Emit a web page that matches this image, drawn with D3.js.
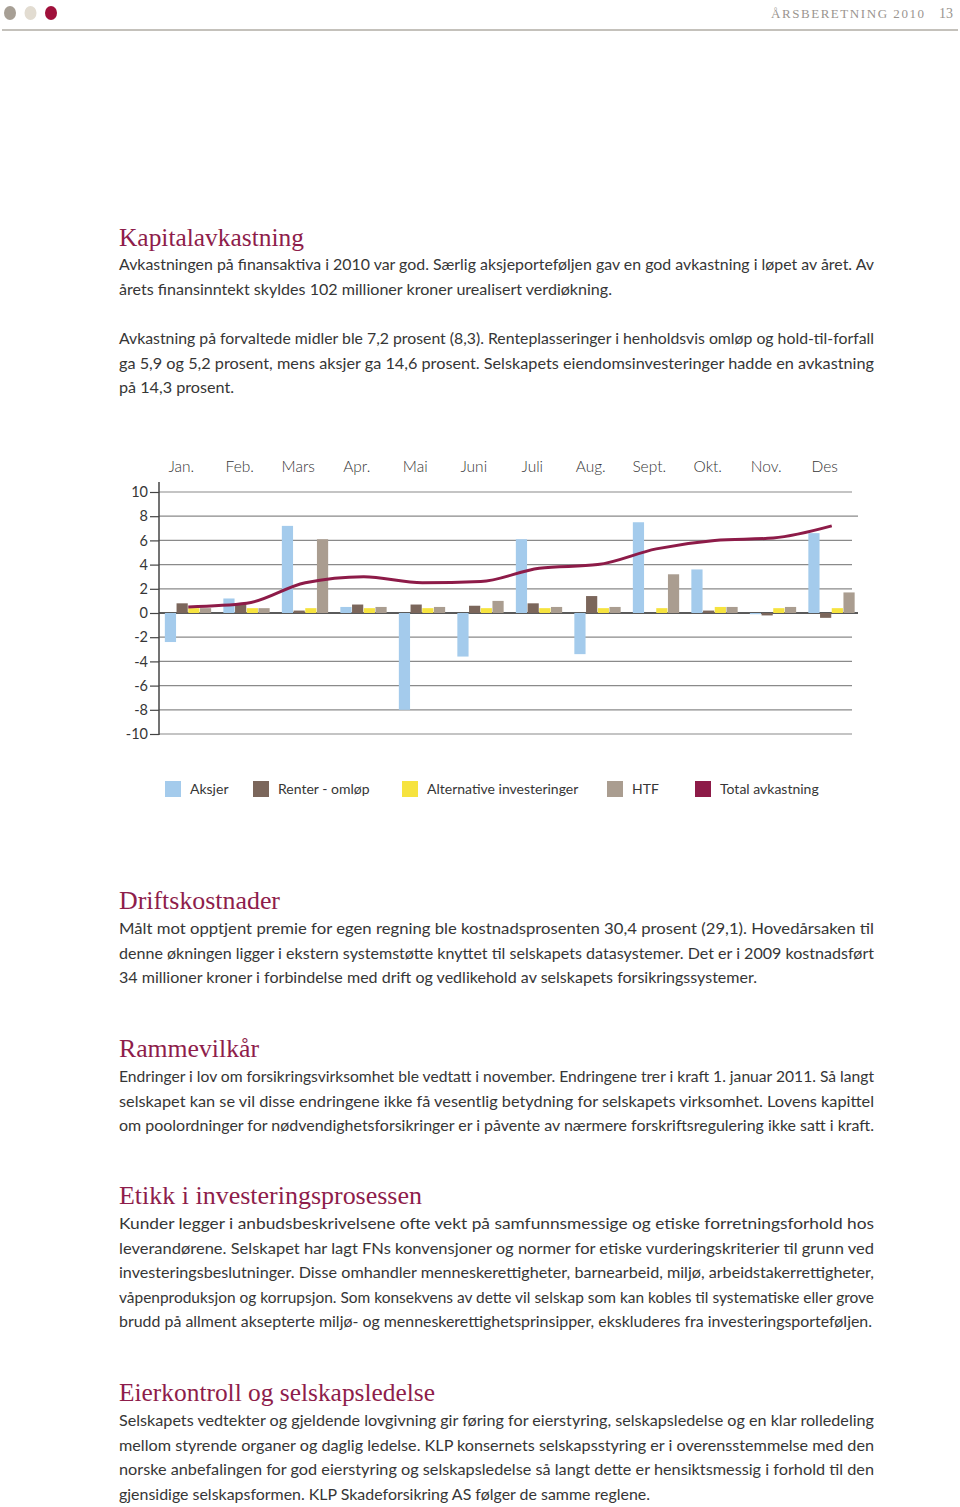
<!DOCTYPE html>
<html><head><meta charset="utf-8">
<script src="https://cdn.jsdelivr.net/npm/d3@7"></script>
<style>
html,body{margin:0;padding:0;background:#fff;}
svg{display:block;}
</style></head>
<body>
<svg id="page" width="960" height="1507"></svg>
<script>
// ---------- DATA ----------
const months = ["Jan.","Feb.","Mars","Apr.","Mai","Juni","Juli","Aug.","Sept.","Okt.","Nov.","Des"];
const seriesNames = ["Aksjer","Renter - omløp","Alternative investeringer","HTF"];
const aksjer      = [-2.4, 1.2, 7.2, 0.5, -8.0, -3.6, 6.1, -3.4, 7.5, 3.6, -0.1, 6.6];
const renter      = [0.8, 0.8, 0.2, 0.7, 0.7, 0.6, 0.8, 1.4, 0.0, 0.2, -0.2, -0.4];
const alternative = [0.4, 0.4, 0.4, 0.4, 0.4, 0.4, 0.4, 0.4, 0.4, 0.5, 0.4, 0.4];
const htf         = [0.4, 0.4, 6.1, 0.5, 0.5, 1.0, 0.5, 0.5, 3.2, 0.5, 0.5, 1.7];
const total       = [0.5, 0.8, 2.5, 3.0, 2.5, 2.6, 3.7, 4.0, 5.3, 6.0, 6.2, 7.2];
const yTicks = [10, 8, 6, 4, 2, 0, -2, -4, -6, -8, -10];
const legendLabels = ["Aksjer","Renter - omløp","Alternative investeringer","HTF","Total avkastning"];

// ---------- STYLE ----------
const colors = ["#a4cbec", "#7b665b", "#f6e33f", "#aa9d90"];
const lineColor = "#8d1b48";
const titleColor = "#8e1d4b";
const textColor = "#363636";
const sans = "Lato, 'Open Sans', sans-serif";
const serif = "'Liberation Serif', 'DejaVu Serif', serif";

const svg = d3.select("#page");

// ---------- HEADER ----------
const dotColors = ["#a79f95", "#e2dcd1", "#a0103b"];
svg.selectAll("ellipse.dot").data(dotColors).join("ellipse")
  .attr("cx", (d, i) => 10 + i * 20.5).attr("cy", 13).attr("rx", 6).attr("ry", 7)
  .attr("fill", d => d);
svg.append("line").attr("x1", 2).attr("x2", 958).attr("y1", 30).attr("y2", 30)
  .attr("stroke", "#c4c1bb").attr("stroke-width", 2);
svg.append("text").attr("x", 771).attr("y", 18).attr("textLength", 153).attr("lengthAdjust", "spacing")
  .style("font-family", serif).style("font-size", "13px").attr("fill", "#9a9590")
  .text("ÅRSBERETNING 2010");
svg.append("text").attr("x", 939).attr("y", 18)
  .style("font-family", serif).style("font-size", "14px").attr("fill", "#9a9590").text("13");

// ---------- TEXT BLOCKS ----------
function title(txt, y, x2) {
  svg.append("text").attr("x", 119).attr("y", y).attr("textLength", x2 - 119).attr("lengthAdjust", "spacingAndGlyphs")
    .style("font-family", serif).style("font-size", "25px").attr("fill", titleColor).text(txt);
}
function para(lines, y0) {
  lines.forEach((l, i) => {
    svg.append("text").attr("x", 119).attr("y", y0 + i * 24.6)
      .attr("textLength", l[1] - 119).attr("lengthAdjust", "spacingAndGlyphs")
      .style("font-family", sans).style("font-size", "16px").attr("fill", textColor).text(l[0]);
  });
}
title("Kapitalavkastning", 246, 304);
para([["Avkastningen på finansaktiva i 2010 var god. Særlig aksjeporteføljen gav en god avkastning i løpet av året.  Av", 874],
      ["årets finansinntekt skyldes 102 millioner kroner urealisert verdiøkning.", 612]], 270);
para([["Avkastning på forvaltede midler ble 7,2 prosent (8,3). Renteplasseringer i henholdsvis omløp og hold-til-forfall", 874],
      ["ga 5,9 og 5,2 prosent, mens aksjer ga 14,6 prosent. Selskapets eiendomsinvesteringer hadde en avkastning", 874],
      ["på 14,3 prosent.", 234]], 344);
title("Driftskostnader", 909, 280);
para([["Målt mot opptjent premie for egen regning ble kostnadsprosenten 30,4 prosent (29,1). Hovedårsaken til", 874],
      ["denne økningen ligger i ekstern systemstøtte knyttet til selskapets datasystemer. Det er i 2009 kostnadsført", 874],
      ["34 millioner kroner i forbindelse med drift og vedlikehold av selskapets forsikringssystemer.", 757]], 934);
title("Rammevilkår", 1057, 259);
para([["Endringer i lov om forsikringsvirksomhet ble vedtatt i november. Endringene trer i kraft 1. januar 2011. Så langt", 874],
      ["selskapet kan se vil disse endringene ikke få vesentlig betydning for selskapets virksomhet. Lovens kapittel", 874],
      ["om poolordninger for nødvendighetsforsikringer er i påvente av nærmere forskriftsregulering ikke satt i kraft.", 874]], 1082);
title("Etikk i investeringsprosessen", 1204, 422);
para([["Kunder legger i anbudsbeskrivelsene ofte vekt på samfunnsmessige og etiske forretningsforhold hos", 874],
      ["leverandørene. Selskapet har lagt FNs konvensjoner og normer for etiske vurderingskriterier til grunn ved", 874],
      ["investeringsbeslutninger. Disse omhandler menneskerettigheter, barnearbeid, miljø, arbeidstakerrettigheter,", 874],
      ["våpenproduksjon og korrupsjon. Som konsekvens av dette vil selskap som kan kobles til systematiske eller grove", 874],
      ["brudd på allment aksepterte miljø- og menneskerettighetsprinsipper, ekskluderes fra investeringsporteføljen.", 872]], 1229);
title("Eierkontroll og selskapsledelse", 1401, 435);
para([["Selskapets vedtekter og gjeldende lovgivning gir føring for eierstyring, selskapsledelse og en klar rolledeling", 874],
      ["mellom styrende organer og daglig ledelse. KLP konsernets selskapsstyring er i overensstemmelse med den", 874],
      ["norske anbefalingen for god eierstyring og selskapsledelse så langt dette er hensiktsmessig i forhold til den", 874],
      ["gjensidige selskapsformen. KLP Skadeforsikring AS følger de samme reglene.", 650]], 1426);

// ---------- CHART ----------
const x = d3.scaleBand().domain(months).range([159, 861]).paddingInner(0.2).paddingOuter(0.1);
const xs = d3.scaleBand().domain(seriesNames).range([0, x.bandwidth()]);
const y = d3.scaleLinear().domain([-10, 10]).range([734, 492]);
const g = svg.append("g");

// gridlines
g.selectAll("line.grid").data(yTicks).join("line")
  .attr("x1", 159).attr("x2", d => (d === 0 || d === 8) ? 858 : 852)
  .attr("y1", d => y(d)).attr("y2", d => y(d))
  .attr("stroke", d => d === 0 ? "#5a5a5a" : "#8a8a8a")
  .attr("stroke-width", d => d === 0 ? 2 : 1.2);

// bars
const seriesData = [aksjer, renter, alternative, htf];
seriesData.forEach((arr, si) => {
  g.append("g").selectAll("rect").data(arr).join("rect")
    .attr("x", (d, i) => x(months[i]) + xs(seriesNames[si]))
    .attr("width", xs.bandwidth() - 0.5)
    .attr("y", d => y(Math.max(0, d)))
    .attr("height", d => Math.abs(y(d) - y(0)))
    .attr("fill", colors[si]);
});

// y axis
const yAxis = d3.axisLeft(y).tickValues(yTicks).tickSize(9).tickPadding(2).tickFormat(d => String(d));
const ax = g.append("g").attr("transform", "translate(159,0)").call(yAxis);
ax.select(".domain").remove();
ax.selectAll(".tick line").attr("stroke", "#444").attr("stroke-width", 1.2);
ax.selectAll(".tick text").style("font-family", sans).style("font-size", "14.5px").attr("fill", textColor);
g.append("line").attr("x1", 159).attr("x2", 159).attr("y1", 482).attr("y2", 735)
  .attr("stroke", "#444").attr("stroke-width", 1.5);

// month labels
g.selectAll("text.month").data(months).join("text")
  .attr("x", d => x(d) + x.bandwidth() / 2 - 7).attr("y", 472)
  .attr("text-anchor", "middle")
  .style("font-family", sans).style("font-weight", 300).style("font-size", "15.5px").attr("fill", textColor)
  .text(d => d);

// total line
const line = d3.line()
  .x((d, i) => x(months[i]) + x.bandwidth() / 2)
  .y(d => y(d))
  .curve(d3.curveMonotoneX);
g.append("path").datum(total).attr("d", line)
  .attr("fill", "none").attr("stroke", lineColor).attr("stroke-width", 3).attr("stroke-linejoin", "round");

// legend
const legendX = [165, 253, 402, 607, 695];
const legendColors = colors.concat([lineColor]);
const lg = svg.append("g").selectAll("g").data(legendLabels).join("g")
  .attr("transform", (d, i) => `translate(${legendX[i]},781)`);
lg.append("rect").attr("width", 16).attr("height", 16).attr("fill", (d, i) => legendColors[i]);
lg.append("text").attr("x", 25).attr("y", 13)
  .style("font-family", sans).style("font-size", "14px").attr("fill", textColor).text(d => d);
</script>
</body></html>
